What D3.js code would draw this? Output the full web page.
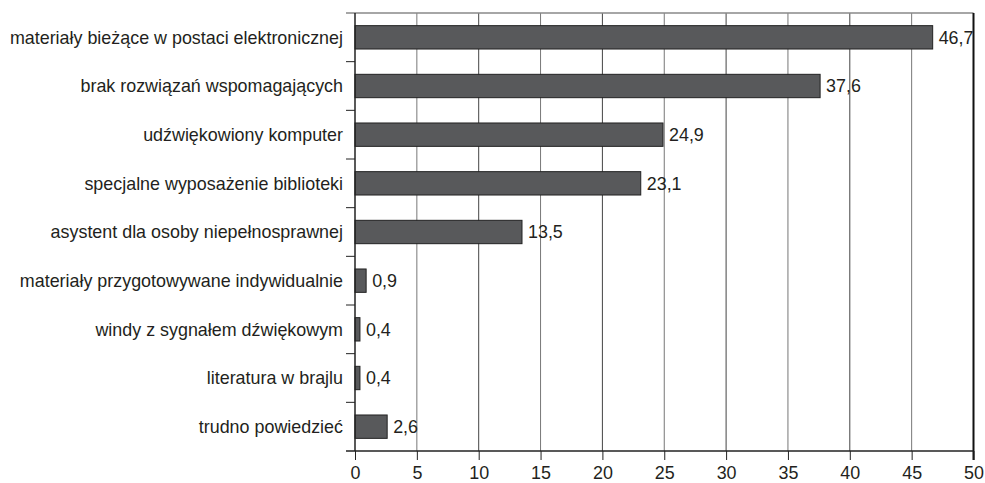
<!DOCTYPE html>
<html><head><meta charset="utf-8">
<script src="https://cdn.jsdelivr.net/npm/d3@7"></script>
<style>body{margin:0;background:#fff}svg{display:block}text{font-family:"Liberation Sans",Arial,sans-serif;fill:#231f20}</style>
</head><body><svg id="c" width="985" height="483"></svg>
<script>
const categories = ["materiały bieżące w postaci elektronicznej","brak rozwiązań wspomagających","udźwiękowiony komputer","specjalne wyposażenie biblioteki","asystent dla osoby niepełnosprawnej","materiały przygotowywane indywidualnie","windy z sygnałem dźwiękowym","literatura w brajlu","trudno powiedzieć"];
const values = [46.7,37.6,24.9,23.1,13.5,0.9,0.4,0.4,2.6];
const valueLabels = ["46,7","37,6","24,9","23,1","13,5","0,9","0,4","0,4","2,6"];
const xTicks = [0,5,10,15,20,25,30,35,40,45,50];

const FS = 17.9;
const svg = d3.select("#c");
const L=355, R=973.5, T=13, B=451;
const x = d3.scaleLinear().domain([0,50]).range([L,R]);
const y = d3.scaleBand().domain(categories).range([T,B]).paddingInner(0.52).paddingOuter(0.26);
const band = d3.scaleBand().domain(categories).range([T,B]);

// grid
svg.append("g").selectAll("line").data(xTicks.slice(1,-1)).join("line")
  .attr("x1",d=>x(d)).attr("x2",d=>x(d)).attr("y1",T).attr("y2",B)
  .attr("stroke",(d,i)=>i%2? "#444":"#777").attr("stroke-width",1);
// top frame
svg.append("line").attr("x1",L-9).attr("x2",R).attr("y1",T).attr("y2",T).attr("stroke","#888").attr("stroke-width",1.5);
// right frame
svg.append("line").attr("x1",R).attr("x2",R).attr("y1",T).attr("y2",B+9).attr("stroke","#111").attr("stroke-width",2);

// bars
svg.append("g").selectAll("rect").data(values).join("rect")
  .attr("x",x(0)).attr("y",(d,i)=>y(categories[i]))
  .attr("width",d=>x(d)-x(0)).attr("height",y.bandwidth())
  .attr("fill","#58595b").attr("stroke","#222").attr("stroke-width",1);

// value labels
svg.append("g").selectAll("text").data(values).join("text")
  .attr("x",d=>x(d)+6).attr("y",(d,i)=>y(categories[i])+y.bandwidth()/2)
  .attr("dy","0.36em").style("font-size",FS+"px").text((d,i)=>valueLabels[i]);

// y axis
const yAxis = d3.axisLeft(band).tickSize(0).tickPadding(12);
const gy = svg.append("g").attr("transform",`translate(${L},0)`).call(yAxis);
gy.select(".domain").remove();
gy.selectAll("text").style("font-size",FS+"px").style("font-family","'Liberation Sans',Arial,sans-serif").style("fill","#231f20").attr("dy","0.36em");
// category separators
svg.append("g").selectAll("line").data(categories.slice(1)).join("line")
  .attr("x1",L-9).attr("x2",L).attr("y1",d=>band(d)).attr("y2",d=>band(d)).attr("stroke","#222");
svg.append("line").attr("x1",L).attr("x2",L).attr("y1",T).attr("y2",B).attr("stroke","#222").attr("stroke-width",1.5);

// x axis
const xAxis = d3.axisBottom(x).tickValues(xTicks).tickSize(9).tickPadding(6).tickFormat(d=>d);
const gx = svg.append("g").attr("transform",`translate(0,${B})`).call(xAxis);
gx.select(".domain").attr("d",`M${L-9},0H${R}`).attr("stroke","#222").attr("stroke-width",1.5);
gx.selectAll(".tick line").attr("stroke","#222");
gx.selectAll("text").style("font-size",FS+"px").style("font-family","'Liberation Sans',Arial,sans-serif").style("fill","#231f20");
</script></body></html>
